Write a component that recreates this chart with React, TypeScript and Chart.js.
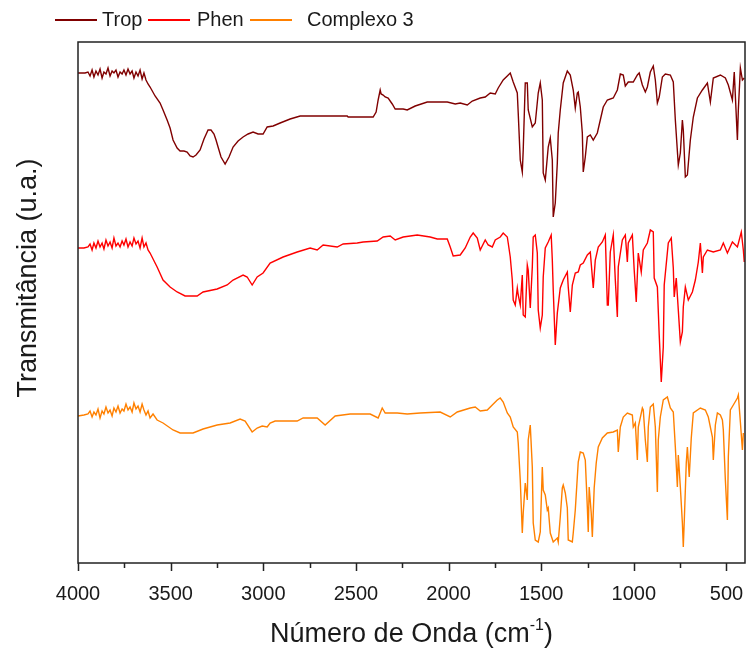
import React, { useEffect, useRef } from "react";
import { Chart, registerables } from "chart.js";
Chart.register(...registerables);

const seriesNames = ["Trop", "Phen", "Complexo 3"];
const seriesColors = ["#800000", "#FF0000", "#FF8000"];
const xTickValues = [4000, 3500, 3000, 2500, 2000, 1500, 1000, 500];
const xMinorTickValues = [3750, 3250, 2750, 2250, 1750, 1250, 750];
const xAxisTitle = "Número de Onda (cm";
const xAxisTitleSup = "-1";
const xAxisTitleEnd = ")";
const yAxisTitle = "Transmitância (u.a.)";

// [wavenumber (cm-1), transmittance (arbitrary units, offset)]
const tropSpectrum: [number, number][] = [
  [4000,98.0],[3962,98.0],[3946,98.2],[3935,97.4],[3924,98.6],[3914,97.2],[3903,98.4],[3892,97.6],[3881,98.8],[3870,97.0],[3860,98.2],[3849,97.8],[3838,99.0],[3827,97.4],[3816,98.4],[3806,98.0],[3795,98.6],[3784,97.2],[3773,98.2],[3762,97.8],[3752,98.6],[3741,97.6],[3730,98.8],[3719,97.8],[3708,98.4],[3698,97.0],[3687,98.2],[3676,97.4],[3665,98.6],[3654,96.8],[3644,98.0],[3633,96.6],[3622,95.8],[3611,95.2],[3584,93.4],[3557,92.0],[3541,90.6],[3519,88.6],[3503,87.0],[3487,84.6],[3465,83.0],[3449,82.4],[3428,82.4],[3411,82.2],[3395,81.4],[3379,81.2],[3363,81.6],[3341,82.6],[3320,84.8],[3298,86.6],[3282,86.6],[3266,85.8],[3255,84.6],[3244,83.2],[3228,81.2],[3206,79.8],[3185,81.2],[3163,83.2],[3136,84.4],[3109,85.2],[3082,85.8],[3055,86.2],[3028,85.8],[3001,85.8],[2979,87.2],[2947,87.4],[2909,88.0],[2855,88.8],[2801,89.4],[2547,89.4],[2542,89.2],[2407,89.2],[2391,90.2],[2380,92.6],[2369,94.6],[2364,93.8],[2353,93.6],[2342,93.2],[2326,93.0],[2304,91.8],[2288,90.8],[2245,90.8],[2223,90.6],[2180,91.4],[2115,92.2],[2007,92.2],[1964,91.8],[1937,92.0],[1899,91.6],[1872,92.4],[1829,93.0],[1802,93.2],[1775,94.0],[1748,93.8],[1732,95.0],[1705,96.6],[1683,97.4],[1667,98.0],[1651,96.2],[1629,94.0],[1624,90.0],[1613,80.6],[1602,78.2],[1597,82.6],[1586,96.0],[1575,96.0],[1570,90.6],[1548,87.2],[1532,88.0],[1516,94.0],[1505,96.0],[1494,92.6],[1489,78.0],[1478,76.6],[1462,83.2],[1451,85.0],[1440,80.6],[1435,69.2],[1424,72.0],[1413,80.0],[1408,86.0],[1397,90.6],[1381,96.0],[1359,98.4],[1343,97.6],[1327,94.6],[1316,91.0],[1305,94.0],[1300,94.2],[1289,91.2],[1278,86.0],[1273,78.2],[1262,81.2],[1251,85.2],[1235,85.6],[1219,84.6],[1197,86.0],[1181,88.6],[1165,91.2],[1143,92.6],[1111,93.0],[1089,94.6],[1073,97.8],[1057,97.6],[1046,95.4],[1030,96.2],[1003,96.2],[981,97.6],[971,98.0],[954,95.6],[938,94.2],[927,95.2],[911,98.2],[895,99.4],[884,96.6],[873,92.0],[863,93.2],[846,97.2],[830,97.8],[803,97.6],[787,96.2],[776,88.6],[760,79.6],[749,82.0],[738,88.6],[733,86.6],[722,77.2],[711,77.6],[695,84.6],[679,89.2],[657,93.0],[630,94.6],[603,96.0],[587,92.2],[571,97.0],[533,97.6],[506,97.0],[490,95.6],[468,92.6],[458,98.2],[441,84.6],[436,90.6],[425,99.0],[414,96.6],[404,97.0],
];

const phenSpectrum: [number, number][] = [
  [4000,63.0],[3968,63.0],[3946,63.2],[3935,63.8],[3924,62.6],[3914,64.0],[3903,63.0],[3892,64.4],[3881,63.2],[3870,64.0],[3860,62.8],[3849,64.6],[3838,63.4],[3827,64.2],[3816,63.0],[3806,65.0],[3795,63.4],[3784,64.0],[3773,63.2],[3762,64.4],[3752,63.6],[3741,64.8],[3730,63.2],[3719,64.2],[3708,63.4],[3698,65.0],[3687,63.8],[3676,64.4],[3665,63.0],[3654,65.0],[3644,63.2],[3633,64.0],[3622,62.6],[3611,62.0],[3573,59.2],[3541,56.6],[3503,55.2],[3465,54.2],[3422,53.4],[3357,53.4],[3325,54.2],[3249,54.8],[3195,55.6],[3163,56.6],[3109,57.6],[3087,57.2],[3060,55.6],[3033,57.2],[3001,58.0],[2963,60.0],[2893,61.2],[2817,62.2],[2747,63.0],[2709,62.6],[2677,63.6],[2601,63.2],[2569,63.8],[2493,64.0],[2461,64.2],[2385,64.4],[2353,65.2],[2315,65.4],[2288,64.6],[2245,65.2],[2169,65.6],[2099,65.2],[2061,64.8],[2007,64.8],[1991,63.2],[1975,61.4],[1937,61.6],[1910,63.0],[1883,65.2],[1867,66.0],[1845,65.0],[1829,62.6],[1802,64.6],[1786,63.6],[1764,63.2],[1748,64.6],[1721,65.2],[1705,66.0],[1683,65.2],[1678,64.0],[1667,61.2],[1656,56.6],[1651,52.6],[1640,51.6],[1629,55.0],[1624,53.6],[1613,51.6],[1602,57.6],[1597,49.6],[1586,49.2],[1575,59.6],[1570,58.6],[1559,51.0],[1548,59.2],[1543,65.2],[1532,65.6],[1521,62.0],[1516,50.6],[1505,47.0],[1494,49.6],[1489,57.2],[1478,63.0],[1462,64.2],[1446,65.6],[1440,60.6],[1435,54.6],[1424,43.6],[1413,50.0],[1397,55.0],[1381,56.6],[1359,58.2],[1354,55.2],[1343,50.2],[1332,55.6],[1316,58.0],[1300,58.2],[1289,59.6],[1273,60.0],[1251,61.6],[1235,62.2],[1219,55.0],[1208,60.6],[1192,63.2],[1170,64.2],[1154,65.6],[1143,51.6],[1138,51.6],[1127,62.2],[1111,65.6],[1100,56.6],[1089,49.2],[1084,59.2],[1062,64.6],[1046,65.6],[1035,60.2],[1030,64.0],[1008,65.6],[998,58.6],[987,52.2],[976,62.0],[960,58.2],[949,62.6],[927,64.0],[911,66.6],[895,66.2],[890,57.0],[873,55.2],[863,45.6],[852,36.2],[841,43.2],[836,55.6],[814,64.0],[798,65.0],[787,59.0],[782,53.2],[771,57.0],[760,50.6],[749,44.2],[738,46.2],[733,51.2],[722,55.2],[706,52.6],[684,54.2],[668,56.6],[652,60.2],[641,64.0],[630,58.0],[625,61.2],[603,62.6],[571,62.2],[533,62.6],[517,64.0],[495,62.0],[468,64.2],[441,63.2],[420,66.2],[409,62.6],[404,60.2],
];

const complexoSpectrum: [number, number][] = [
  [4000,29.4],[3968,29.6],[3946,29.8],[3935,30.4],[3924,29.2],[3914,30.2],[3903,29.6],[3892,30.8],[3881,29.0],[3870,30.4],[3860,29.8],[3849,31.2],[3838,30.0],[3827,30.6],[3816,29.4],[3806,31.0],[3795,30.2],[3784,31.4],[3773,30.0],[3762,30.8],[3752,30.4],[3741,31.8],[3730,30.6],[3719,31.2],[3708,30.2],[3698,32.0],[3687,30.8],[3676,31.4],[3665,30.2],[3654,31.8],[3644,30.6],[3633,29.6],[3622,30.4],[3611,29.0],[3595,29.8],[3573,28.6],[3541,28.0],[3487,26.6],[3449,26.0],[3379,26.0],[3325,26.8],[3249,27.6],[3179,28.0],[3125,28.8],[3098,28.4],[3060,26.2],[3033,27.0],[3006,27.4],[2979,27.2],[2963,28.0],[2936,28.4],[2817,28.4],[2785,29.0],[2709,29.0],[2666,27.6],[2612,29.4],[2531,29.8],[2423,29.8],[2380,29.0],[2358,31.0],[2342,30.0],[2277,30.0],[2223,29.8],[2153,30.0],[2045,30.2],[1991,29.2],[1953,30.2],[1883,31.0],[1856,31.2],[1829,30.4],[1791,30.6],[1764,31.6],[1737,32.6],[1721,33.0],[1705,32.2],[1683,30.0],[1667,29.2],[1651,27.2],[1629,26.2],[1624,24.0],[1613,16.6],[1602,6.0],[1597,10.0],[1586,16.0],[1575,12.6],[1570,24.6],[1559,27.6],[1548,19.2],[1543,8.0],[1532,4.6],[1516,4.2],[1505,6.2],[1494,19.2],[1489,14.6],[1478,13.6],[1467,10.6],[1462,11.0],[1451,6.0],[1435,4.2],[1413,5.0],[1408,4.2],[1397,9.2],[1386,15.0],[1381,15.6],[1370,14.0],[1359,11.0],[1354,4.6],[1332,4.2],[1327,6.0],[1316,10.6],[1305,17.2],[1300,20.2],[1289,22.2],[1273,22.0],[1262,20.6],[1251,11.2],[1246,6.2],[1241,15.2],[1230,10.0],[1224,5.2],[1214,15.0],[1203,20.0],[1192,23.2],[1170,25.0],[1143,26.0],[1111,26.2],[1089,26.6],[1084,22.2],[1073,27.2],[1057,29.2],[1035,30.0],[1008,29.6],[1003,27.2],[992,28.0],[981,20.6],[976,27.2],[954,31.0],[949,30.6],[938,24.6],[927,20.2],[922,27.2],[911,31.2],[895,31.8],[884,27.2],[873,14.2],[868,24.6],[857,29.2],[841,32.6],[819,33.2],[803,31.0],[787,30.2],[776,23.2],[765,15.2],[760,21.6],[749,15.2],[738,8.0],[733,3.2],[727,9.2],[717,20.0],[711,23.2],[701,17.2],[690,25.0],[679,30.0],[641,31.0],[614,30.6],[598,29.2],[576,25.2],[571,20.6],[560,27.6],[549,30.0],[533,29.6],[522,28.6],[517,26.6],[506,16.6],[495,8.6],[490,21.2],[479,30.6],[463,31.6],[441,33.0],[436,33.6],[425,28.2],[414,22.6],[409,26.0],
];

const spectra = [tropSpectrum, phenSpectrum, complexoSpectrum];

const FONT = "'Liberation Sans', Arial, sans-serif";
const TEXT_COLOR = "#1a1a1a";

const decorPlugin = {
  id: "decor",
  afterDraw(chart: any) {
    const { ctx, chartArea: a, scales } = chart;
    const xs = scales.x;
    ctx.save();
    // frame
    ctx.strokeStyle = "#222";
    ctx.lineWidth = 1.5;
    ctx.strokeRect(a.left, a.top, a.right - a.left, a.bottom - a.top);
    // tick marks
    ctx.beginPath();
    xTickValues.forEach((v) => {
      const px = Math.round(xs.getPixelForValue(v)) + 0.5;
      ctx.moveTo(px, a.bottom);
      ctx.lineTo(px, a.bottom + 8);
    });
    xMinorTickValues.forEach((v) => {
      const px = Math.round(xs.getPixelForValue(v)) + 0.5;
      ctx.moveTo(px, a.bottom);
      ctx.lineTo(px, a.bottom + 5);
    });
    ctx.stroke();

    // legend
    const lineStarts = [55, 148, 250];
    const textStarts = [102, 197, 307];
    const ly = 20;
    ctx.font = `20px ${FONT}`;
    ctx.textBaseline = "middle";
    ctx.textAlign = "left";
    chart.data.datasets.forEach((ds: any, i: number) => {
      ctx.strokeStyle = ds.borderColor;
      ctx.lineWidth = 2;
      ctx.beginPath();
      ctx.moveTo(lineStarts[i], ly);
      ctx.lineTo(lineStarts[i] + 42, ly);
      ctx.stroke();
      ctx.fillStyle = TEXT_COLOR;
      ctx.fillText(ds.label, textStarts[i], ly);
    });

    // x axis title with superscript
    ctx.fillStyle = TEXT_COLOR;
    ctx.textBaseline = "alphabetic";
    const big = `27px ${FONT}`;
    const small = `16px ${FONT}`;
    ctx.font = big;
    const w1 = ctx.measureText(xAxisTitle).width;
    const w3 = ctx.measureText(xAxisTitleEnd).width;
    ctx.font = small;
    const w2 = ctx.measureText(xAxisTitleSup).width;
    let x0 = (a.left + a.right) / 2 - (w1 + w2 + w3) / 2;
    const by = 642;
    ctx.font = big;
    ctx.fillText(xAxisTitle, x0, by);
    x0 += w1;
    ctx.font = small;
    ctx.fillText(xAxisTitleSup, x0, by - 12);
    x0 += w2;
    ctx.font = big;
    ctx.fillText(xAxisTitleEnd, x0, by);

    // y axis title
    ctx.translate(36, 278);
    ctx.rotate(-Math.PI / 2);
    ctx.textAlign = "center";
    ctx.font = big;
    ctx.fillText(yAxisTitle, 0, 0);
    ctx.restore();
  },
};

export default function App() {
  const canvasRef = useRef<HTMLCanvasElement | null>(null);

  useEffect(() => {
    if (!canvasRef.current) return;
    const chart = new Chart(canvasRef.current, {
      type: "line",
      data: {
        datasets: spectra.map((s, i) => ({
          label: seriesNames[i],
          data: s.map(([x, y]) => ({ x, y })),
          borderColor: seriesColors[i],
          backgroundColor: seriesColors[i],
          borderWidth: 1.4,
          pointRadius: 0,
          tension: 0,
          fill: false,
        })),
      },
      options: {
        animation: false,
        responsive: true,
        maintainAspectRatio: false,
        layout: { padding: { top: 42, right: 2, left: 0, bottom: 0 } },
        plugins: { legend: { display: false }, tooltip: { enabled: false } },
        scales: {
          x: {
            type: "linear",
            reverse: true,
            min: 400,
            max: 4000,
            grid: { display: false },
            border: { display: false },
            afterBuildTicks: (s: any) => {
              s.ticks = xTickValues.map((v) => ({ value: v }));
            },
            afterFit: (s: any) => {
              s.height = 87;
              s.paddingLeft = 0;
              s.paddingRight = 0;
            },
            ticks: {
              autoSkip: false,
              maxRotation: 0,
              padding: 11,
              color: TEXT_COLOR,
              font: { family: FONT, size: 20 },
              callback: (v: any) => String(v),
            },
          },
          y: {
            type: "linear",
            min: 0,
            max: 104.2,
            grid: { display: false },
            border: { display: false },
            ticks: { display: false },
            afterFit: (s: any) => {
              s.width = 78;
              s.paddingTop = 0;
              s.paddingBottom = 0;
            },
          },
        },
      },
      plugins: [decorPlugin],
    });
    return () => chart.destroy();
  }, []);

  return (
    <div style={{ position: "absolute", left: 0, top: 0, width: 747, height: 650, background: "#fff" }}>
      <canvas ref={canvasRef} />
    </div>
  );
}
